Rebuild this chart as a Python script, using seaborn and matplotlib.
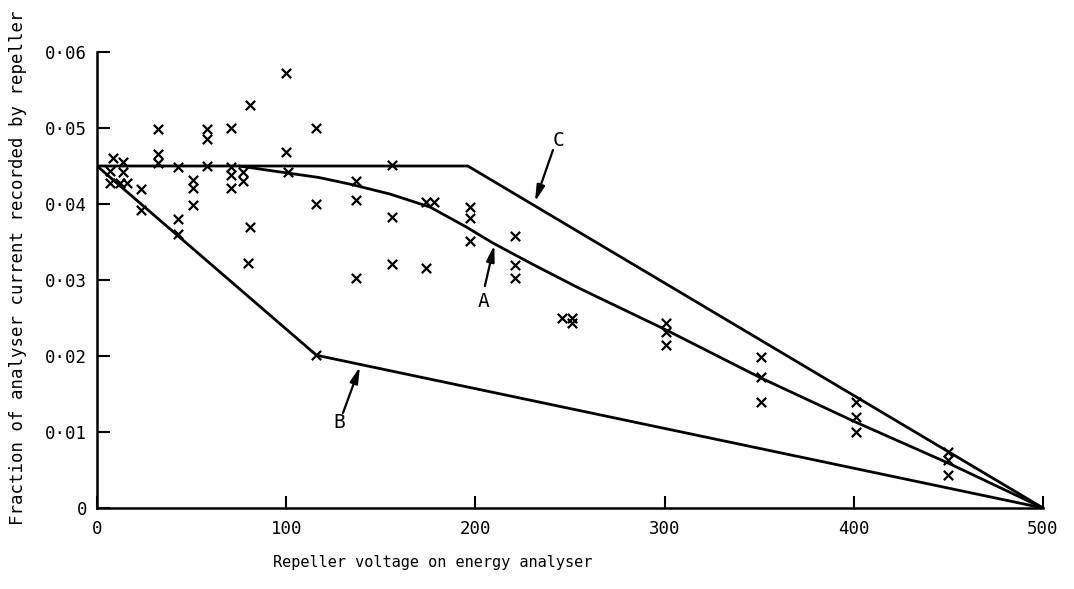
import matplotlib
matplotlib.use("Agg")
import matplotlib.pyplot as plt
import seaborn as sns
import pandas as pd

# ---- data ----
pts_x = [7, 7, 8.5, 12, 14, 14, 16,
         23, 23,
         32, 32, 32,
         43, 43, 43,
         51, 51, 51,
         58, 58, 58,
         71, 71, 71, 71,
         77, 77,
         81, 81, 80,
         100, 100, 101,
         116, 116, 116,
         137, 137, 137,
         156, 156, 156,
         174, 178, 174,
         197, 197, 197,
         221, 221, 221,
         246, 251, 251,
         301, 301, 301,
         351, 351, 351,
         401, 401, 401,
         450, 450, 450]
pts_y = [0.0443, 0.0427, 0.0461, 0.0427, 0.0455, 0.0442, 0.0427,
         0.0420, 0.0392,
         0.0499, 0.0466, 0.0454,
         0.0449, 0.0380, 0.0361,
         0.0432, 0.0421, 0.0399,
         0.0499, 0.0486, 0.0450,
         0.0500, 0.0449, 0.0438, 0.0421,
         0.0442, 0.0430,
         0.0530, 0.0370, 0.0322,
         0.0572, 0.0468, 0.0442,
         0.0500, 0.0400, 0.0201,
         0.0430, 0.0405, 0.0303,
         0.0451, 0.0383, 0.0321,
         0.0403, 0.0403, 0.0316,
         0.0396, 0.0381, 0.0351,
         0.0358, 0.0320, 0.0303,
         0.0250, 0.0250, 0.0243,
         0.0243, 0.0232, 0.0215,
         0.0199, 0.0172, 0.0140,
         0.0140, 0.0120, 0.0100,
         0.0074, 0.0063, 0.0043]

curveA_x = [75, 100, 117, 134, 155, 176, 195, 209, 230, 255, 301, 351, 401, 450, 500]
curveA_y = [0.0450, 0.0441, 0.0435, 0.0426, 0.0413, 0.0396, 0.0370, 0.0349, 0.0321,
            0.0289, 0.0234, 0.0171, 0.0113, 0.0059, 0.0]
curveB_x = [0, 116, 500]
curveB_y = [0.0450, 0.0201, 0.0]
curveC_x = [0, 196, 500]
curveC_y = [0.0450, 0.0450, 0.0]

x_ticks = [0, 100, 200, 300, 400, 500]
x_ticklabels = ["0", "100", "200", "300", "400", "500"]
y_ticks = [0, 0.01, 0.02, 0.03, 0.04, 0.05, 0.06]
y_ticklabels = ["0", "0·01", "0·02", "0·03", "0·04", "0·05", "0·06"]

labels = ["A", "B", "C"]
label_pos = [(204.5, 0.0272), (128, 0.0113), (243.7, 0.0484)]
arrow_start = [(205, 0.0292), (130, 0.0125), (241, 0.0471)]
arrow_tip = [(210, 0.0346), (139, 0.0186), (231.5, 0.0403)]

x_label = "Repeller voltage on energy analyser"
y_label = "Fraction of analyser current recorded by repeller"

# ---- plot ----
sns.set_theme(style="ticks")
plt.rcParams["font.family"] = ["DejaVu Sans Mono", "DejaVu Sans"]

fig = plt.figure(figsize=(10.74, 5.89), dpi=100)
ax = fig.add_axes([97 / 1074, 1 - 508 / 589, (1043 - 97) / 1074, (508 - 52) / 589])

for cx, cy in [(curveA_x, curveA_y), (curveB_x, curveB_y), (curveC_x, curveC_y)]:
    d = pd.DataFrame({"x": cx, "y": cy})
    sns.lineplot(data=d, x="x", y="y", sort=False, estimator=None, color="black",
                 linewidth=2.0, ax=ax, zorder=2)

pdf = pd.DataFrame({"x": pts_x, "y": pts_y})
sns.scatterplot(data=pdf, x="x", y="y", marker="x", s=45, color="black",
                linewidth=1.6, ax=ax, zorder=3)

for lab, lp, st, tp in zip(labels, label_pos, arrow_start, arrow_tip):
    ax.text(lp[0], lp[1], lab, ha="center", va="center", fontsize=14, color="black")
    ax.annotate("", xy=tp, xytext=st,
                arrowprops=dict(arrowstyle="-|>,head_length=0.8,head_width=0.2",
                                color="black", lw=1.6, shrinkA=0, shrinkB=0))

ax.set_xlim(0, 500)
ax.set_ylim(0, 0.06)
ax.set_xticks(x_ticks)
ax.set_xticklabels(x_ticklabels)
ax.set_yticks(y_ticks)
ax.set_yticklabels(y_ticklabels)
ax.tick_params(direction="in", length=9, width=1.5, labelsize=12.5, colors="black", pad=9)
ax.tick_params(axis="y", pad=7)
for s in ["top", "right"]:
    ax.spines[s].set_visible(False)
for s in ["left", "bottom"]:
    ax.spines[s].set_linewidth(1.8)
    ax.spines[s].set_color("black")
ax.set_xlabel("")
ax.set_ylabel("")

fig.text(433 / 1074, 1 - 562 / 589, x_label,
         ha="center", va="center", fontsize=11, color="black")
fig.text(18 / 1074, 1 - 268 / 589, y_label,
         ha="center", va="center", rotation=90, fontsize=12.5, color="black")

fig.savefig("out.png", dpi=100, facecolor="white")
